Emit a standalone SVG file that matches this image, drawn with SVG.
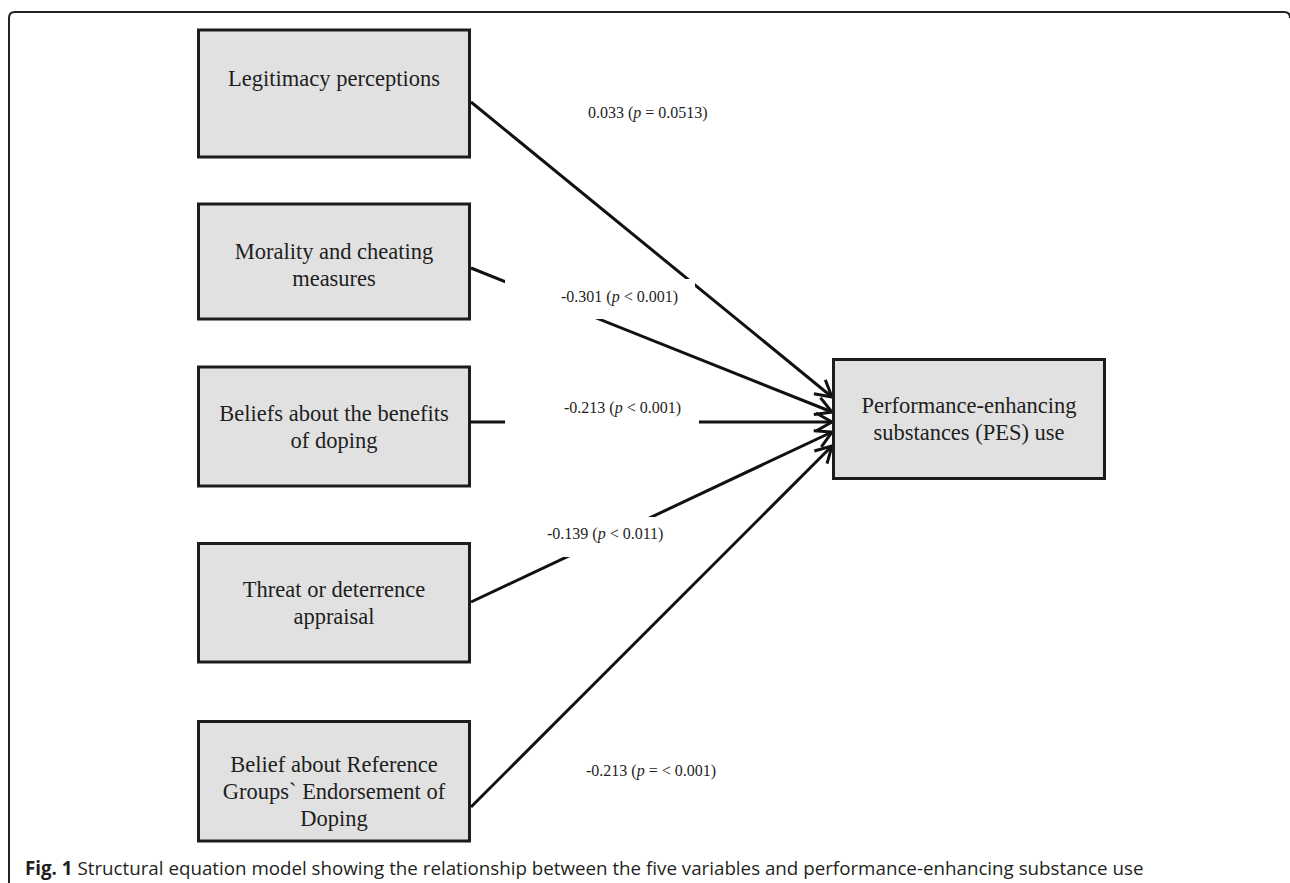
<svg xmlns="http://www.w3.org/2000/svg" width="1290" height="883" viewBox="0 0 1290 883">
  <style>
    .box { fill: #e1e1e1; stroke: #1c1c1c; stroke-width: 3; }
    .nt { font-family: "Liberation Serif", "Times New Roman", serif; font-size: 22.5px; fill: #1e1e1e; text-anchor: middle; }
    .lbl { font-family: "Liberation Serif", "Times New Roman", serif; font-size: 16px; fill: #1e1e1e; }
    .edge { stroke: #111; stroke-width: 3; fill: none; marker-end: url(#arr); }
    .mask { fill: #ffffff; stroke: none; }
    .cap { font-family: "Open Sans", "Liberation Sans", sans-serif; font-size: 18.75px; fill: #231f20; }
  </style>
  <defs>
    <marker id="arr" markerUnits="userSpaceOnUse" viewBox="-3 -3 24 24" markerWidth="24" markerHeight="24" refX="16" refY="9" orient="auto">
      <path d="M0,0 L16,9 L0,18" fill="none" stroke="#111" stroke-width="3" stroke-linejoin="miter"/>
    </marker>
  </defs>
  <rect width="1290" height="883" fill="#ffffff"/>
  <path d="M9,883 V18 Q9,12 15,12 H1284 Q1290,12 1290,18" fill="none" stroke="#222" stroke-width="2"/>

  <g id="connectors">
    <line class="edge" x1="471" y1="102" x2="832" y2="397"/>
    <line class="edge" x1="471" y1="268" x2="832" y2="412"/>
    <line class="edge" x1="471" y1="422" x2="832" y2="422"/>
    <line class="edge" x1="471" y1="602" x2="832" y2="432"/>
    <line class="edge" x1="471" y1="807" x2="832" y2="446"/>
    <g id="edge-labels">
      <text class="lbl" x="588" y="118">0.033 (<tspan font-style="italic">p</tspan> = 0.0513)</text>
      <rect class="mask" x="505" y="279" width="190" height="40"/>
      <text class="lbl" x="561" y="302">-0.301 (<tspan font-style="italic">p</tspan> &lt; 0.001)</text>
      <rect class="mask" x="505" y="393" width="194" height="38"/>
      <text class="lbl" x="564" y="413">-0.213 (<tspan font-style="italic">p</tspan> &lt; 0.001)</text>
      <rect class="mask" x="505" y="517" width="190" height="40"/>
      <text class="lbl" x="547" y="539">-0.139 (<tspan font-style="italic">p</tspan> &lt; 0.011)</text>
      <text class="lbl" x="586" y="776">-0.213 (<tspan font-style="italic">p</tspan> = &lt; 0.001)</text>
    </g>
  </g>

  <g id="legitimacy">
    <rect class="box" x="198.5" y="30" width="271" height="127"/>
    <text class="nt" x="334" y="86">Legitimacy perceptions</text>
  </g>
  <g id="morality">
    <rect class="box" x="198.5" y="204" width="271" height="115"/>
    <text class="nt" x="334" y="259">Morality and cheating</text>
    <text class="nt" x="334" y="286">measures</text>
  </g>
  <g id="beliefs-benefits">
    <rect class="box" x="198.5" y="367" width="271" height="119"/>
    <text class="nt" x="334" y="421">Beliefs about the benefits</text>
    <text class="nt" x="334" y="448">of doping</text>
  </g>
  <g id="threat">
    <rect class="box" x="198.5" y="543.5" width="271" height="118.5"/>
    <text class="nt" x="334" y="597">Threat or deterrence</text>
    <text class="nt" x="334" y="624">appraisal</text>
  </g>
  <g id="reference-groups">
    <rect class="box" x="198.5" y="721.5" width="271" height="119.5"/>
    <text class="nt" x="334" y="772">Belief about Reference</text>
    <text class="nt" x="334" y="799">Groups` Endorsement of</text>
    <text class="nt" x="334" y="826">Doping</text>
  </g>
  <g id="pes-use">
    <rect class="box" x="833.5" y="359.5" width="271" height="119"/>
    <text class="nt" x="969" y="413">Performance-enhancing</text>
    <text class="nt" x="969" y="440">substances (PES) use</text>
  </g>

  <text class="cap" x="25" y="875"><tspan font-weight="bold">Fig. 1</tspan> Structural equation model showing the relationship between the five variables and performance-enhancing substance use</text>
</svg>
